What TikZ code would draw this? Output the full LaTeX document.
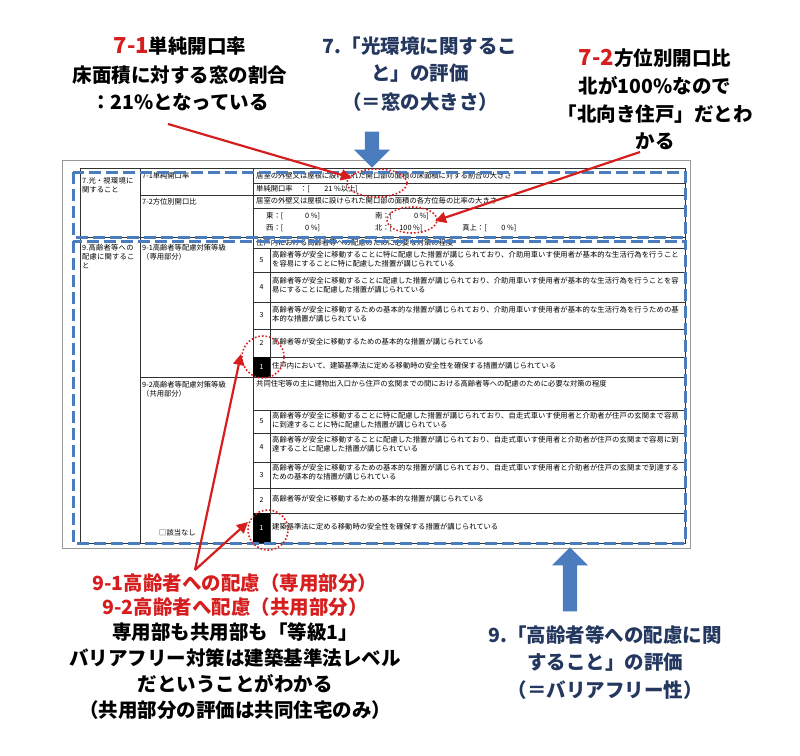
\documentclass[tikz,border=0pt]{standalone}
\usepackage{fontspec}
\setmainfont{Noto Sans CJK JP}
\XeTeXlinebreaklocale "ja"
\XeTeXlinebreakskip=0pt plus 1pt
\usetikzlibrary{arrows.meta,shapes.arrows}
\definecolor{ared}{RGB}{215,30,30}
\definecolor{navy}{RGB}{35,55,95}
\definecolor{dblue}{RGB}{75,125,190}
\begin{document}
\begin{tikzpicture}[x=1pt,y=-1pt,
  ann/.style={font=\fontsize{19.5}{22}\selectfont\bfseries,inner sep=0pt},
  cell/.style={anchor=north west,font=\fontsize{7.3}{9}\selectfont,inner sep=1pt,align=left},
  num/.style={font=\fontsize{7}{8}\selectfont,inner sep=1pt},
  tl/.style={line width=0.6pt,black!80},
  redarr/.style={ared,line width=2.2pt,-{Triangle[length=11pt,width=11pt]}},
  dots/.style={ared,line width=1.6pt,dotted},
  bdash/.style={dblue,line width=3pt,dash pattern=on 12pt off 5pt},
  barrow/.style={single arrow,draw=none,fill=dblue,minimum height=36pt,minimum width=36pt,single arrow head extend=8pt,inner sep=5pt}]
\useasboundingbox (0,0) rectangle (800,755);
% page
\draw[black!40,line width=0.6pt] (62,160) rectangle (690,548);
% table grid
\draw[tl] (80,168) rectangle (685,543);
\draw[tl] (140,168)--(140,543);
\draw[tl] (253,168)--(253,543);
\draw[tl] (80,237)--(685,237);
\draw[tl] (140,195)--(685,195);
\draw[tl] (253,183)--(685,183);
\draw[tl] (253,208)--(685,208);
\draw[tl] (253,248)--(685,248);
\foreach \y in {272,302,329,357} \draw[tl] (253,\y)--(685,\y);
\draw[tl] (140,377)--(685,377);
\draw[tl] (253,410)--(685,410);
\foreach \y in {433,462,488,513} \draw[tl] (253,\y)--(685,\y);
\draw[tl] (270,248)--(270,377);
\draw[tl] (270,410)--(270,543);
\fill (253,357) rectangle (270,377);
\fill (253,513) rectangle (270,543);
% left texts
\node[cell,text width=55pt] (c7) at (81,176) {7.光・視環境に関すること};
\node[cell] (c71) at (141,171) {7-1単純開口率};
\node[cell] (c72) at (141,197) {7-2方位別開口比};
\node[cell,text width=55pt] (c9) at (81,243) {9.高齢者等への配慮に関すること};
\node[cell,text width=108pt] (c91) at (141,243) {9-1高齢者等配慮対策等級\\（専用部分）};
\node[cell,text width=108pt] (c92) at (141,380) {9-2高齢者等配慮対策等級\\（共用部分）};
\node[cell] (na) at (158,528) {□該当なし};
% 7 texts
\node[cell] (t1) at (255,171) {居室の外壁又は屋根に設けられた開口部の面積の床面積に対する割合の大きさ};
\node[cell] (t2) at (255,184) {単純開口率\quad ：[\qquad 21 \%以上]};
\node[cell] (t3) at (255,196) {居室の外壁又は屋根に設けられた開口部の面積の各方位毎の比率の大きさ};
\node[cell] (t4) at (265,211) {東：[\qquad\quad 0 \%]\hspace{55pt}南：[\qquad\quad 0 \%]};
\node[cell] (t5) at (265,223) {西：[\qquad\quad 0 \%]\hspace{55pt}北：[\quad 100 \%]\hspace{40pt}真上：[\qquad 0 \%]};
% 9-1
\node[cell] (h1) at (255,238) {住戸内における高齢者等への配慮のために必要な対策の程度};
\node[num] at (261.5,260) {5};
\node[cell,text width=408pt] at (271,250) {高齢者等が安全に移動することに特に配慮した措置が講じられており、介助用車いす使用者が基本的な生活行為を行うことを容易にすることに特に配慮した措置が講じられている};
\node[num] at (261.5,287) {4};
\node[cell,text width=408pt] at (271,276) {高齢者等が安全に移動することに配慮した措置が講じられており、介助用車いす使用者が基本的な生活行為を行うことを容易にすることに配慮した措置が講じられている};
\node[num] at (261.5,315) {3};
\node[cell,text width=408pt] at (271,305) {高齢者等が安全に移動するための基本的な措置が講じられており、介助用車いす使用者が基本的な生活行為を行うための基本的な措置が講じられている};
\node[num] at (261.5,343) {2};
\node[cell] at (271,337) {高齢者等が安全に移動するための基本的な措置が講じられている};
\node[num,white] at (261.5,367) {1};
\node[cell] at (271,361) {住戸内において、建築基準法に定める移動時の安全性を確保する措置が講じられている};
% 9-2
\node[cell,text width=425pt] (h2) at (255,379) {共同住宅等の主に建物出入口から住戸の玄関までの間における高齢者等への配慮のために必要な対策の程度};
\node[num] at (261.5,421) {5};
\node[cell,text width=408pt] at (271,411) {高齢者等が安全に移動することに特に配慮した措置が講じられており、自走式車いす使用者と介助者が住戸の玄関まで容易に到達することに特に配慮した措置が講じられている};
\node[num] at (261.5,447) {4};
\node[cell,text width=408pt] at (271,435) {高齢者等が安全に移動することに配慮した措置が講じられており、自走式車いす使用者と介助者が住戸の玄関まで容易に到達することに配慮した措置が講じられている};
\node[num] at (261.5,475) {3};
\node[cell,text width=408pt] at (271,463) {高齢者等が安全に移動するための基本的な措置が講じられており、自走式車いす使用者と介助者が住戸の玄関まで到達するための基本的な措置が講じられている};
\node[num] at (261.5,500) {2};
\node[cell] at (271,494) {高齢者等が安全に移動するための基本的な措置が講じられている};
\node[num,white] at (261.5,528) {1};
\node[cell] at (271,522) {建築基準法に定める移動時の安全性を確保する措置が講じられている};
% blue dashed frames
\draw[bdash] (73,172) rectangle (685,237);
\draw[bdash] (73,241) rectangle (685,543);
% dotted ellipses
\draw[dots] (377,183) ellipse (30pt and 14pt);
\coordinate (e1) at (352,178);
\draw[dots] (412,220) ellipse (25pt and 13pt);
\coordinate (e2) at (435,221);
\draw[dots] (263,357) circle (21pt);
\coordinate (e3) at (241,354);
\draw[dots] (268,530) circle (20pt);
\coordinate (e4) at (248,522);
% annotations
\node[ann] (a1) at (180,46) {\textcolor{ared}{\fontsize{22}{24}\selectfont 7-1}単純開口率};
\node[ann] (a1b) at (180,75) {床面積に対する窓の割合};
\node[ann] (a1c) at (180,102) {：21\%となっている};
\node[ann,navy] (b1) at (420,46) {7.「光環境に関するこ};
\node[ann,navy] (b1b) at (420,73) {と」の評価};
\node[ann,navy] (b1c) at (420,102) {（＝窓の大きさ）};
\node[ann] (a2) at (655,58) {\textcolor{ared}{\fontsize{22}{24}\selectfont 7-2}方位別開口比};
\node[ann] (a2b) at (655,86) {北が100\%なので};
\node[ann] (a2c) at (655,114) {「北向き住戸」だとわ};
\node[ann] (a2d) at (655,141) {かる};
\node[ann,ared] (c1) at (235,583) {9-1高齢者への配慮（専用部分）};
\node[ann,ared] (c1b) at (235,607) {9-2高齢者へ配慮（共用部分）};
\node[ann] (c1c) at (235,632) {専用部も共用部も「等級1」};
\node[ann] (c1d) at (235,658) {バリアフリー対策は建築基準法レベル};
\node[ann] (c1e) at (235,684) {だということがわかる};
\node[ann] (c1f) at (235,710) {（共用部分の評価は共同住宅のみ）};
\node[ann,navy] (d1) at (605,635) {9.「高齢者等への配慮に関};
\node[ann,navy] (d1b) at (605,662) {すること」の評価};
\node[ann,navy] (d1c) at (605,690) {（＝バリアフリー性）};
% arrows
\draw[redarr] (168,124) -- (e1);
\draw[redarr] (640,152) -- (e2);
\coordinate (src) at (195,570);
\draw[redarr] (src) -- (e3);
\draw[redarr] (src) -- (e4);
\node[barrow,shape border rotate=270] (ba1) at (372,146) {};
\node[barrow,shape border rotate=90,minimum height=64pt] (ba2) at (570,583) {};
\end{tikzpicture}
\end{document}
